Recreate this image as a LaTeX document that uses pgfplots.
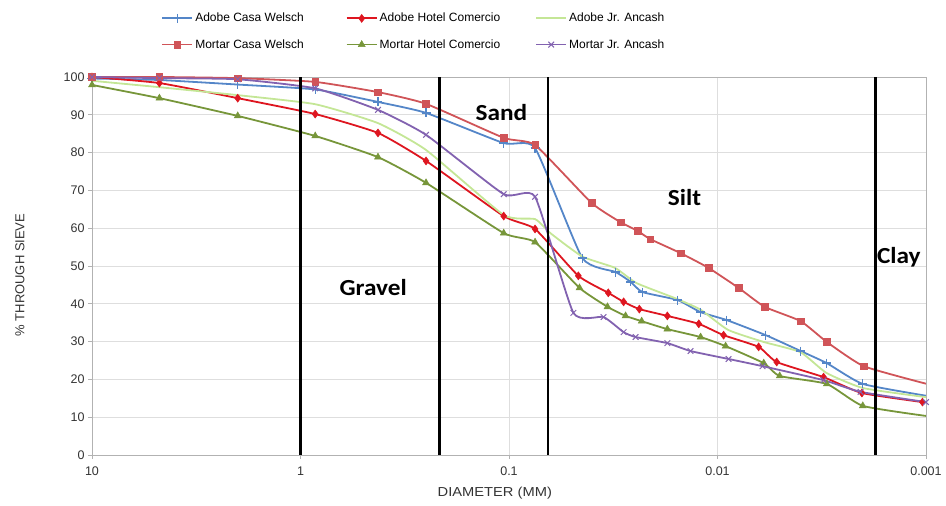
\documentclass[border=0pt]{standalone}
\usepackage{fontspec}
\setmainfont{Liberation Sans}
\newfontfamily\zonefont{Carlito}
\usepackage{pgfplots}
\pgfplotsset{compat=1.18}
\definecolor{cACW}{RGB}{84,134,200}
\definecolor{cMCW}{RGB}{208,84,88}
\definecolor{cAHC}{RGB}{222,22,32}
\definecolor{cMHC}{RGB}{119,150,58}
\definecolor{cAJA}{RGB}{196,230,150}
\definecolor{cMJA}{RGB}{130,98,176}
\begin{document}
\begin{tikzpicture}
\begin{axis}[
  at={(0,0)}, anchor=south west,
  scale only axis, width=834pt, height=378pt,
  xmode=log, x dir=reverse, xmin=0.001, xmax=10, ymin=0, ymax=100,
  xtick={10,1,0.1,0.01,0.001}, xticklabels={10,1,0.1,0.01,0.001},
  ytick={0,10,...,100},
  /pgf/number format/assume math mode=true,
  xmajorgrids, xminorgrids, ymajorgrids,
  grid style={draw=black!13, line width=0.7pt},
  minor grid style={draw=black!10, line width=0.7pt},
  axis line style={draw=black!30, line width=0.9pt},
  tick style={draw=black!30, line width=0.8pt},
  major tick length=4pt, minor tick length=0pt,
  tick align=outside, tick pos=left,
  ticklabel style={font=\fontsize{12.5}{14}\selectfont, text=black!80},
  xticklabel style={yshift=-4pt},
  xlabel={DIAMETER (MM)}, ylabel={\% THROUGH SIEVE},
  xlabel style={at={(axis description cs:0.483,-0.1005)}, anchor=center, font=\fontsize{13}{15}\selectfont, text=black!80, xscale=1.13},
  ylabel style={at={(axis description cs:-0.0863,0.476)}, anchor=center, font=\fontsize{13}{15}\selectfont, text=black!80},
  legend columns=3,
  legend cell align=left,
  legend style={at={(axis description cs:0.386,1)}, anchor=center, yshift=45.5pt,
    draw=none, fill=none, font=\fontsize{12}{14}\selectfont, row sep=12pt,
    /tikz/column 2/.style={column sep=40pt},
    /tikz/column 4/.style={column sep=33pt}},
  legend image code/.code={\draw[mark repeat=2,mark phase=2] plot coordinates {(0pt,0pt) (15pt,0pt) (30pt,0pt)};},
  every axis plot/.append style={line width=1.8pt, smooth, tension=0.3},
]
% Adobe Casa Welsch
\addplot[cACW, mark=+, mark size=4.5pt, mark options={line width=1.3pt}] coordinates {
(10,99.6) (4.75,99.2) (2.0,98.0) (0.85,96.7) (0.425,93.4) (0.25,90.5) (0.106,82.5) (0.075,81.2)
(0.0445,52.1) (0.0308,48.4) (0.0261,45.8) (0.0229,43.1) (0.01556,41.0) (0.01206,37.8) (0.00904,35.7)
(0.00587,31.7) (0.00399,27.5) (0.00299,24.3) (0.00201,18.8) (0.00098,15.6)};
\addlegendentry{Adobe Casa Welsch}
% Adobe Hotel Comercio
\addplot[cAHC, mark=diamond*, mark size=4pt, mark options={line width=0.5pt}] coordinates {
(10,100) (4.75,98.4) (2.0,94.4) (0.85,90.2) (0.425,85.2) (0.25,77.8) (0.106,63.2) (0.075,59.8)
(0.0465,47.4) (0.0334,42.9) (0.0282,40.5) (0.0237,38.6) (0.0174,36.8) (0.0123,34.7) (0.00935,31.7)
(0.00635,28.6) (0.0052,24.6) (0.0031,20.6) (0.00203,16.4) (0.00104,14.0)};
\addlegendentry{Adobe Hotel Comercio}
% Adobe Jr. Ancash
\addplot[cAJA, no marks] coordinates {
(10,99.0) (4.75,97.3) (2.0,95.2) (0.85,92.8) (0.425,87.8) (0.25,80.7) (0.106,63.5) (0.075,62.4)
(0.063,58.6) (0.0445,52.5) (0.031,49.5) (0.0245,45.5) (0.016,41.5) (0.0121,38.5) (0.0089,33.1)
(0.0060,29.9) (0.0040,27.2) (0.0030,21.7) (0.0020,17.7) (0.0010,15.3)};
\addlegendentry{Adobe Jr. Ancash}
% Mortar Casa Welsch
\addplot[cMCW, mark=square*, mark size=3.3pt, mark options={line width=0.5pt}] coordinates {
(10,100) (4.75,100) (2.0,99.7) (0.85,98.7) (0.425,96.0) (0.25,92.9) (0.106,83.9) (0.075,82.0)
(0.0402,66.7) (0.0292,61.6) (0.0242,59.3) (0.0210,57.1) (0.01503,53.4) (0.01104,49.5) (0.00792,44.2)
(0.00594,39.2) (0.00399,35.4) (0.00299,29.9) (0.00199,23.5) (0.00099,18.8)};
\addlegendentry{Mortar Casa Welsch}
% Mortar Hotel Comercio
\addplot[cMHC, mark=triangle*, mark size=4pt, mark options={line width=0.5pt}] coordinates {
(10,97.9) (4.75,94.4) (2.0,89.7) (0.85,84.4) (0.425,78.8) (0.25,72.0) (0.106,58.7) (0.075,56.3)
(0.0459,44.2) (0.0337,39.2) (0.0276,36.8) (0.0231,35.4) (0.0174,33.3) (0.01205,31.2) (0.00914,28.8)
(0.0060,24.3) (0.00503,20.9) (0.00299,18.8) (0.00201,13.0) (0.00099,10.3)};
\addlegendentry{Mortar Hotel Comercio}
% Mortar Jr. Ancash
\addplot[cMJA, mark=x, mark size=4pt, mark options={line width=1pt}] coordinates {
(10,100) (4.75,99.7) (2.0,99.4) (0.85,97.0) (0.425,91.3) (0.25,84.7) (0.106,69.0) (0.075,68.3)
(0.0491,37.6) (0.0352,36.5) (0.0282,32.5) (0.0247,31.2) (0.0174,29.6) (0.01347,27.5) (0.00885,25.4)
(0.00608,23.5) (0.0031,19.8) (0.00206,16.7) (0.001,14.0)};
\addlegendentry{Mortar Jr. Ancash}
% zone boundaries
\addplot[black, line width=2.6pt, no marks, forget plot] coordinates {(1,0) (1,100)};
\addplot[black, line width=2.6pt, no marks, forget plot] coordinates {(0.215,0) (0.215,100)};
\addplot[black, line width=2.6pt, no marks, forget plot] coordinates {(0.065,0) (0.065,100)};
\addplot[black, line width=2.6pt, no marks, forget plot] coordinates {(0.00175,0) (0.00175,100)};
\node[font=\zonefont\bfseries\fontsize{23}{25}\selectfont, xscale=1.1] at (axis cs:0.448,44.2) {Gravel};
\node[font=\zonefont\bfseries\fontsize{23}{25}\selectfont, xscale=1.1] at (axis cs:0.1087,90.6) {Sand};
\node[font=\zonefont\bfseries\fontsize{23}{25}\selectfont, xscale=1.1] at (axis cs:0.01439,68) {Silt};
\node[font=\zonefont\bfseries\fontsize{23}{25}\selectfont, xscale=1.1] at (axis cs:0.00135,52.4) {Clay};
\end{axis}
\pgfresetboundingbox
\path[use as bounding box] (-92pt,-51pt) rectangle (854pt,455pt);
\end{tikzpicture}
\end{document}
